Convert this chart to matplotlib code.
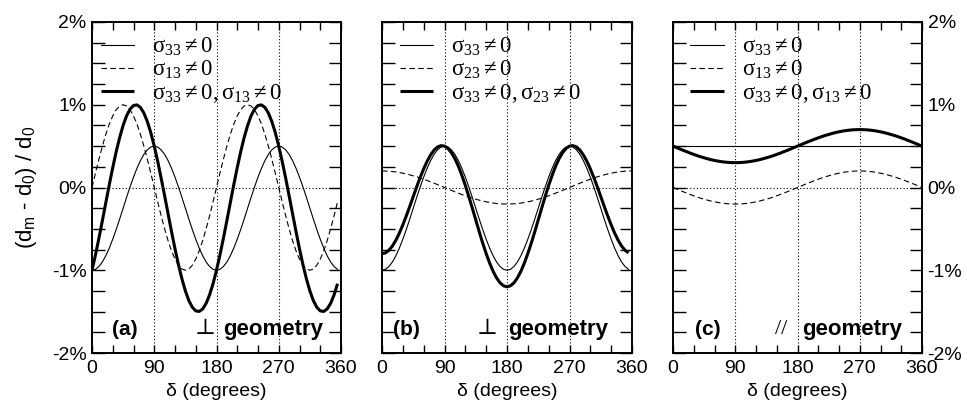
import numpy as np
import matplotlib
matplotlib.use("Agg")
import matplotlib.pyplot as plt

plt.rcParams['font.family'] = ['Liberation Sans', 'DejaVu Sans']
plt.rcParams['mathtext.fontset'] = 'custom'
plt.rcParams['mathtext.rm'] = 'Liberation Serif'
plt.rcParams['mathtext.it'] = 'Liberation Serif'
plt.rcParams['mathtext.bf'] = 'Liberation Serif:bold'
plt.rcParams['mathtext.sf'] = 'Liberation Sans'

# ---------------- data (percent strain vs delta in degrees) ----------------
delta_ab = np.arange(0, 360, 5)      # 0 .. 355
delta_full = np.arange(0, 365, 5)    # 0 .. 360

half_s33 = [-1.0, -0.989, -0.955, -0.900, -0.825, -0.732, -0.625, -0.507, -0.381, -0.25,
            -0.119, 0.007, 0.125, 0.232, 0.325, 0.400, 0.455, 0.489, 0.5,
            0.489, 0.455, 0.400, 0.325, 0.232, 0.125, 0.007, -0.119, -0.25, -0.381,
            -0.507, -0.625, -0.732, -0.825, -0.900, -0.955, -0.989]
a_s33 = half_s33 + half_s33

half_s13 = [0.0, 0.174, 0.342, 0.5, 0.643, 0.766, 0.866, 0.940, 0.985, 1.0,
            0.985, 0.940, 0.866, 0.766, 0.643, 0.5, 0.342, 0.174, 0.0,
            -0.174, -0.342, -0.5, -0.643, -0.766, -0.866, -0.940, -0.985, -1.0,
            -0.985, -0.940, -0.866, -0.766, -0.643, -0.5, -0.342, -0.174]
a_s13 = half_s13 + half_s13

half_both = [-1.0, -0.815, -0.613, -0.400, -0.182, 0.034, 0.241, 0.433, 0.604, 0.75,
             0.866, 0.947, 0.991, 0.998, 0.968, 0.900, 0.797, 0.663, 0.5,
             0.315, 0.113, -0.100, -0.318, -0.534, -0.741, -0.933, -1.104, -1.25,
             -1.366, -1.447, -1.491, -1.498, -1.468, -1.400, -1.297, -1.163]
a_both = half_both + half_both

b_s33 = a_s33
b_s23 = [0.2, 0.199, 0.197, 0.193, 0.188, 0.181, 0.173, 0.164, 0.153, 0.141, 0.129, 0.115,
         0.1, 0.085, 0.068, 0.052, 0.035, 0.017, 0.0,
         -0.017, -0.035, -0.052, -0.068, -0.085, -0.1, -0.115, -0.129, -0.141, -0.153,
         -0.164, -0.173, -0.181, -0.188, -0.193, -0.197, -0.199, -0.2,
         -0.199, -0.197, -0.193, -0.188, -0.181, -0.173, -0.164, -0.153, -0.141, -0.129,
         -0.115, -0.1, -0.085, -0.068, -0.052, -0.035, -0.017, 0.0,
         0.017, 0.035, 0.052, 0.068, 0.085, 0.1, 0.115, 0.129, 0.141, 0.153, 0.164,
         0.173, 0.181, 0.188, 0.193, 0.197, 0.199, 0.2]
b_both = [-0.8, -0.790, -0.758, -0.707, -0.637, -0.551, -0.452, -0.343, -0.228, -0.109,
          0.010, 0.122, 0.225, 0.317, 0.393, 0.452, 0.490, 0.506, 0.5,
          0.472, 0.420, 0.348, 0.257, 0.147, 0.025, -0.108, -0.248, -0.391, -0.534,
          -0.671, -0.798, -0.913, -1.013, -1.093, -1.152, -1.188, -1.2,
          -1.188, -1.152, -1.093, -1.013, -0.913, -0.798, -0.671, -0.534, -0.391, -0.248,
          -0.108, 0.025, 0.147, 0.257, 0.348, 0.420, 0.472, 0.5,
          0.506, 0.490, 0.452, 0.393, 0.317, 0.225, 0.122, 0.010, -0.109, -0.228,
          -0.343, -0.452, -0.551, -0.637, -0.707, -0.758, -0.790]

c_s33 = [0.5] * 73
c_s13 = [0.0, -0.017, -0.035, -0.052, -0.068, -0.085, -0.1, -0.115, -0.129, -0.141, -0.153,
         -0.164, -0.173, -0.181, -0.188, -0.193, -0.197, -0.199, -0.2,
         -0.199, -0.197, -0.193, -0.188, -0.181, -0.173, -0.164, -0.153, -0.141, -0.129,
         -0.115, -0.1, -0.085, -0.068, -0.052, -0.035, -0.017, 0.0,
         0.017, 0.035, 0.052, 0.068, 0.085, 0.1, 0.115, 0.129, 0.141, 0.153, 0.164,
         0.173, 0.181, 0.188, 0.193, 0.197, 0.199, 0.2,
         0.199, 0.197, 0.193, 0.188, 0.181, 0.173, 0.164, 0.153, 0.141, 0.129, 0.115,
         0.1, 0.085, 0.068, 0.052, 0.035, 0.017, 0.0]
c_both = [0.5, 0.483, 0.465, 0.448, 0.432, 0.415, 0.4, 0.385, 0.371, 0.359, 0.347,
          0.336, 0.327, 0.319, 0.312, 0.307, 0.303, 0.301, 0.3,
          0.301, 0.303, 0.307, 0.312, 0.319, 0.327, 0.336, 0.347, 0.359, 0.371,
          0.385, 0.4, 0.415, 0.432, 0.448, 0.465, 0.483, 0.5,
          0.517, 0.535, 0.552, 0.568, 0.585, 0.6, 0.615, 0.629, 0.641, 0.653, 0.664,
          0.673, 0.681, 0.688, 0.693, 0.697, 0.699, 0.7,
          0.699, 0.697, 0.693, 0.688, 0.681, 0.673, 0.664, 0.653, 0.641, 0.629, 0.615,
          0.6, 0.585, 0.568, 0.552, 0.535, 0.517, 0.5]

legend_a = [r'$\sigma_{33} \neq 0$', r'$\sigma_{13} \neq 0$', r'$\sigma_{33} \neq 0, \sigma_{13} \neq 0$']
legend_b = [r'$\sigma_{33} \neq 0$', r'$\sigma_{23} \neq 0$', r'$\sigma_{33} \neq 0, \sigma_{23} \neq 0$']
legend_c = legend_a

panel_labels = ['(a)', '(b)', '(c)']
geom_symbols = ['\u22a5', '\u22a5', '//']

xticks = [0, 90, 180, 270, 360]
yticks = [-2, -1, 0, 1, 2]
ytick_labels = ['-2%', '-1%', '0%', '1%', '2%']

# ---------------- figure ----------------
W, H = 967, 407
fig = plt.figure(figsize=(W / 100, H / 100), dpi=100)

rects = [(92, 249), (382, 250), (673, 249)]
top, bot = 22, 353
axes = []
for (l, w) in rects:
    ax = fig.add_axes([l / W, (H - bot) / H, w / W, (bot - top) / H])
    axes.append(ax)

thin = dict(color='black', lw=0.8, ls='-')
dash = dict(color='black', lw=0.8, ls=(0, (5, 3)))
thick = dict(color='black', lw=2.2, ls='-', solid_capstyle='butt')

series = [
    (delta_ab, a_s33, delta_ab, a_s13, delta_ab, a_both, legend_a),
    (delta_ab, b_s33, delta_full, b_s23, delta_ab, b_both, legend_b),
    (delta_full, c_s33, delta_full, c_s13, delta_full, c_both, legend_c),
]

leg_x = [0.035, 0.07, 0.07]
lab_x = [29, 16, 32]
sym_x = [163, 151, 157]
geo_x = [334, 326, 331]

minor_y = np.arange(-2, 2.01, 0.25)
ylabels = []
for v in minor_y:
    if abs(v - round(v)) < 1e-9:
        ylabels.append(ytick_labels[yticks.index(int(round(v)))])
    else:
        ylabels.append('')

for i, ax in enumerate(axes):
    x1, y1, x2, y2, x3, y3, labs = series[i]
    for gx in [90, 180, 270]:
        ax.axvline(gx, color='black', lw=0.8, ls=(0, (1, 2)), zorder=1)
    ax.axhline(0, color='black', lw=0.8, ls=(0, (1, 2)), zorder=1)
    h1, = ax.plot(x1, y1, **thin, zorder=3)
    h2, = ax.plot(x2, y2, **dash, zorder=3)
    h3, = ax.plot(x3, y3, **thick, zorder=4)
    ax.set_xlim(0, 360)
    ax.set_ylim(-2, 2)
    ax.set_xticks(np.arange(0, 361, 30))
    ax.set_xticklabels([str(v) if v in xticks else '' for v in range(0, 361, 30)])
    ax.set_yticks(minor_y)
    ax.tick_params(axis='x', direction='in', length=6, width=1.0, top=True, bottom=True,
                   labelsize=14, pad=5)
    ax.tick_params(axis='y', direction='in', length=9, width=1.0, left=True, right=True,
                   labelsize=14, pad=4)
    if i == 0:
        ax.set_yticklabels(ylabels)
        ax.tick_params(axis='y', labelleft=True, labelright=False)
        ax.set_ylabel(r'(d$_\mathsf{m}$ - d$_\mathsf{0}$) / d$_\mathsf{0}$', fontsize=16, labelpad=9)
    elif i == 1:
        ax.tick_params(axis='y', labelleft=False, labelright=False)
    else:
        ax.set_yticklabels(ylabels)
        ax.tick_params(axis='y', labelleft=False, labelright=True)
    ax.set_xlabel('\u03b4 (degrees)', fontsize=14, labelpad=4)
    for s in ax.spines.values():
        s.set_linewidth(1.4)

    leg = ax.legend([h1, h2, h3], labs, loc='upper left',
                    bbox_to_anchor=(leg_x[i], 0.962), frameon=False,
                    fontsize=16.5, handlelength=1.45, handletextpad=0.8,
                    labelspacing=0.0, borderaxespad=0, borderpad=0)

    ax.text(lab_x[i], -1.72, panel_labels[i], fontsize=15, fontweight='bold',
            ha='left', va='center')
    ax.text(sym_x[i], -1.72, geom_symbols[i], fontsize=16,
            family=['Liberation Serif', 'DejaVu Serif', 'DejaVu Sans'],
            ha='center', va='center')
    ax.text(geo_x[i], -1.72, 'geometry', fontsize=16, fontweight='bold',
            ha='right', va='center')

fig.savefig('out.png', dpi=100)
